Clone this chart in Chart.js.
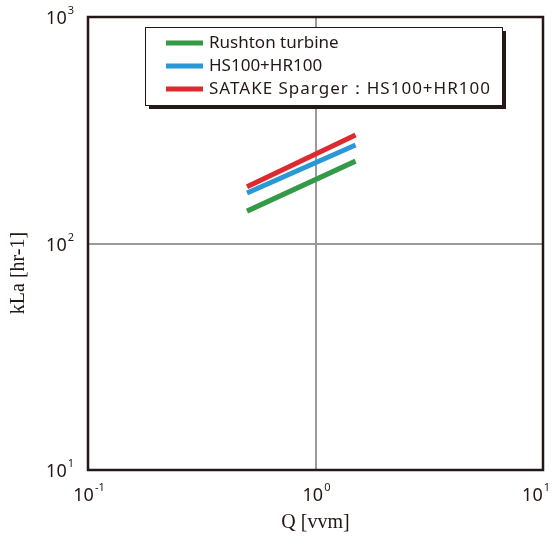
<!DOCTYPE html>
<html>
<head>
<meta charset="utf-8">
<script src="https://cdn.jsdelivr.net/npm/chart.js@4"></script>
<style>
  html, body { margin: 0; padding: 0; background: #fff; }
  #wrap { width: 552px; height: 545px; }
</style>
</head>
<body>
<div id="wrap"><canvas id="kla"></canvas></div>
<script>
// values (log-log)
const qRange = [0.5, 1.5];
const rushton = [139, 231];
const hs100 = [167, 272];
const satake = [178, 301];

const seriesNames = ['Rushton turbine', 'HS100+HR100', 'SATAKE Sparger\uFF1AHS100+HR100'];
const seriesColors = ['#349a48', '#2b98d6', '#de2a2e'];
const legendSpacing = ['0px', '0px', '1px'];

const xTicks = [0.1, 1, 10];
const yTicks = [10, 100, 1000];
const xTickExp = ['-1', '0', '1'];
const yTickExp = ['1', '2', '3'];

const frameColor = '#231815';
const gridColor = '#9a9a9a';
const sansFont = '"Noto Sans", sans-serif';
const serifFont = '"Liberation Serif", serif';

function pairs(xs, ys) {
    return xs.map((x, i) => ({ x: x, y: ys[i] }));
}

// draws "10" with a superscript exponent next to (cx, cy)
function drawPow(ctx, cx, cy, exp, align) {
    ctx.font = '18px ' + sansFont;
    const baseW = ctx.measureText('10').width;
    ctx.font = '11px ' + sansFont;
    const expW = ctx.measureText(exp).width;
    const total = baseW + expW + 1;
    let left = cx - total / 2;
    if (align === 'right') left = cx - total;
    // keep the label inside the canvas
    left = Math.min(left, ctx.canvas.width - total - 2);
    ctx.textBaseline = 'middle';
    ctx.textAlign = 'left';
    ctx.font = '18px ' + sansFont;
    ctx.fillText('10', left, cy);
    ctx.font = '11px ' + sansFont;
    ctx.fillText(exp, left + baseW + 1, cy - 8);
}

const decorations = {
    id: 'decorations',
    afterDraw(chart) {
        const ctx = chart.ctx;
        const area = chart.chartArea;
        const xs = chart.scales.x;
        const ys = chart.scales.y;
        ctx.save();

        // frame
        ctx.strokeStyle = frameColor;
        ctx.lineWidth = 2.5;
        ctx.strokeRect(area.left, area.top, area.right - area.left, area.bottom - area.top);

        // tick labels
        ctx.fillStyle = '#231815';
        xTicks.forEach((v, i) => {
            drawPow(ctx, xs.getPixelForValue(v) + 1, area.bottom + 26, xTickExp[i], 'center');
        });
        yTicks.forEach((v, i) => {
            drawPow(ctx, area.left - 14, ys.getPixelForValue(v) + 2, yTickExp[i], 'right');
        });

        // axis titles
        ctx.font = '20px ' + serifFont;
        ctx.textAlign = 'center';
        ctx.textBaseline = 'middle';
        ctx.fillText('Q [vvm]', (area.left + area.right) / 2, area.bottom + 53);
        ctx.save();
        ctx.translate(19, 273);
        ctx.rotate(-Math.PI / 2);
        ctx.fillText('kLa [hr-1]', 0, 0);
        ctx.restore();

        // legend box with drop shadow
        const box = { x: 145, y: 27, w: 357, h: 78 };
        ctx.fillStyle = '#231815';
        ctx.fillRect(box.x + 4, box.y + 4, box.w, box.h);
        ctx.fillStyle = '#fff';
        ctx.fillRect(box.x, box.y, box.w, box.h);
        ctx.strokeStyle = '#231815';
        ctx.lineWidth = 1;
        ctx.strokeRect(box.x + 0.5, box.y + 0.5, box.w, box.h);

        ctx.font = '17px ' + sansFont;
        ctx.textAlign = 'left';
        ctx.textBaseline = 'middle';
        chart.data.datasets.forEach((ds, i) => {
            const rowY = box.y + 16 + i * 23;
            ctx.strokeStyle = ds.borderColor;
            ctx.lineWidth = 5;
            ctx.beginPath();
            ctx.moveTo(166, rowY);
            ctx.lineTo(203, rowY);
            ctx.stroke();
            ctx.fillStyle = '#231815';
            ctx.letterSpacing = legendSpacing[i];
            ctx.fillText(ds.label, 209, rowY);
        });
        ctx.letterSpacing = '0px';

        ctx.restore();
    }
};

const ctx = document.getElementById('kla').getContext('2d');
new Chart(ctx, {
    type: 'line',
    data: {
        datasets: [
            { label: seriesNames[0], data: pairs(qRange, rushton), borderColor: seriesColors[0] },
            { label: seriesNames[1], data: pairs(qRange, hs100), borderColor: seriesColors[1] },
            { label: seriesNames[2], data: pairs(qRange, satake), borderColor: seriesColors[2] },
        ],
    },
    options: {
        responsive: true,
        maintainAspectRatio: false,
        animation: false,
        layout: { padding: { left: 88, top: 17, right: 9, bottom: 75 } },
        elements: {
            line: { borderWidth: 5, borderCapStyle: 'butt', tension: 0 },
            point: { radius: 0 },
        },
        plugins: {
            legend: { display: false },
            tooltip: { enabled: false },
        },
        scales: {
            x: {
                type: 'logarithmic',
                min: 0.1,
                max: 10,
                afterBuildTicks: (scale) => { scale.ticks = xTicks.map((v) => ({ value: v })); },
                ticks: { display: false },
                border: { display: false },
                grid: {
                    drawTicks: false,
                    lineWidth: 2,
                    color: (c) => (c.tick && c.tick.value === 1 ? gridColor : 'rgba(0,0,0,0)'),
                },
            },
            y: {
                type: 'logarithmic',
                min: 10,
                max: 1000,
                afterBuildTicks: (scale) => { scale.ticks = yTicks.map((v) => ({ value: v })); },
                ticks: { display: false },
                border: { display: false },
                grid: {
                    drawTicks: false,
                    lineWidth: 2,
                    color: (c) => (c.tick && c.tick.value === 100 ? gridColor : 'rgba(0,0,0,0)'),
                },
            },
        },
    },
    plugins: [decorations],
});
</script>
</body>
</html>
